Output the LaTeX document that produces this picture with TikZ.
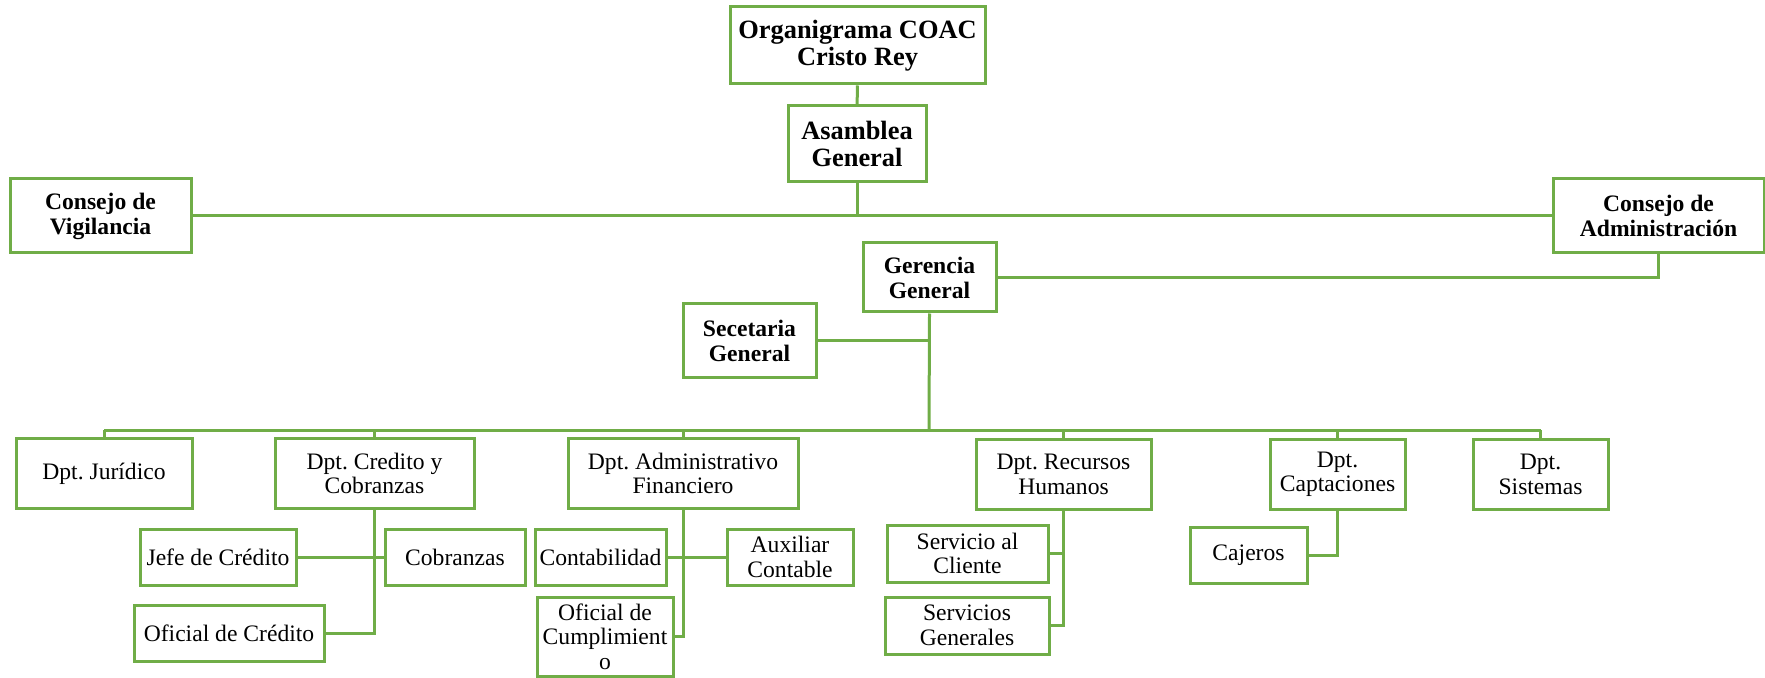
\documentclass[tikz,border=0pt]{standalone}
\usepackage{fontspec}
\setmainfont{Liberation Serif}
\usetikzlibrary{calc}
\definecolor{orgverde}{HTML}{70AD47}
\frenchspacing

\begin{document}
\begin{tikzpicture}[x=0.5pt,y=-0.5pt,
	caja/.style={draw=orgverde,line width=1.5pt,fill=white,align=center,inner sep=0pt},
	dim/.style 2 args={minimum width=#1*0.5pt,minimum height=#2*0.5pt},
	titulo/.style={caja,font=\fontsize{13.2}{13.6}\selectfont\bfseries},
	jefatura/.style={caja,font=\fontsize{11.8}{12.5}\selectfont\bfseries},
	area/.style={caja,font=\fontsize{11.8}{12.25}\selectfont},
	linea/.style={draw=orgverde,line width=1.5pt}]
	\useasboundingbox (0,0) rectangle (1765,678);
	% cabecera
	\node[titulo,dim={255}{77}] (tit) at (857.5,45.5) {Organigrama COAC\\Cristo Rey};
	\node[titulo,dim={138}{76}] (asam) at (857,144) {Asamblea\\General};
	\node[jefatura,dim={181}{74}] (vig) at (100.5,216) {Consejo de\\Vigilancia};
	\node[jefatura,dim={211}{74}] (adm) at (1658.5,216) {Consejo de\\Administración};
	\node[jefatura,dim={133}{69}] (ger) at (929.5,277.5) {Gerencia\\General};
	\node[jefatura,dim={133}{73}] (sec) at (749.5,340.5) {Secetaria\\General};
	% departamentos
	\node[area,dim={176}{70}] (jur) at (104,473.5) {Dpt. Jurídico};
	\node[area,dim={199}{70}] (cred) at (374.5,473.5) {Dpt. Credito y\\Cobranzas};
	\node[area,dim={230}{70}] (fin) at (683,473.5) {Dpt. Administrativo\\Financiero};
	\node[area,dim={175}{70}] (rrhh) at (1063.5,474.5) {Dpt. Recursos\\Humanos};
	\node[area,dim={135}{70}] (cap) at (1337.5,474.5) {Dpt.\\Captaciones};
	\node[area,dim={135}{70}] (sis) at (1540.5,474.5) {Dpt.\\Sistemas};
	% unidades
	\node[area,dim={156}{56}] (jefe) at (218,557) {Jefe de Crédito};
	\node[area,dim={140}{56}] (cobr) at (455,557) {Cobranzas};
	\node[area,dim={190}{56}] (ofcred) at (229,633) {Oficial de Crédito};
	\node[area,dim={131}{56}] (cont) at (600.5,557) {Contabilidad};
	\node[area,dim={126}{56}] (aux) at (790,557) {Auxiliar\\Contable};
	\node[area,dim={136}{79}] (ofcum) at (605,636.5) {Oficial de\\Cumplimient\\o};
	\node[area,dim={161}{57}] (scli) at (967.5,553.5) {Servicio al\\Cliente};
	\node[area,dim={164}{57}] (sgen) at (967,625.5) {Servicios\\Generales};
	\node[area,dim={117}{56}] (caj) at (1248.5,555) {Cajeros};
	\coordinate (bus) at (929,430);
	% conectores
	\draw[linea] (tit) -- (asam);
	\draw[linea] (vig) -- (adm);
	\draw[linea] (asam.south) -- (asam.south |- vig.east);
	\draw[linea] (ger.east) -| (adm.south);
	\draw[linea] (sec.east) -- (ger.south |- sec.east);
	\draw[linea] (ger.south) -- (bus);
	\draw[linea] (jur.north |- bus) -- (sis.north |- bus);
	\foreach \d in {jur,cred,fin,rrhh,cap,sis}
		\draw[linea] (\d.north) -- (\d.north |- bus);
	\draw[linea] (jefe) -- (cobr);
	\draw[linea] (cred.south) |- (ofcred.east);
	\draw[linea] (cont) -- (aux);
	\draw[linea] (fin.south) |- (ofcum.east);
	\draw[linea] (rrhh.south) |- (sgen.east);
	\draw[linea] (scli.east) -- (rrhh.south |- scli.east);
	\draw[linea] (cap.south) |- (caj.east);
\end{tikzpicture}
\end{document}
